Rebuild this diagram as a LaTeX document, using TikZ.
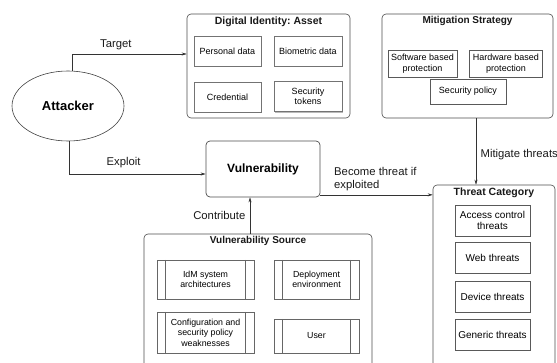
\documentclass[tikz,border=0pt]{standalone}
\usepackage{fontspec}
\setmainfont{Liberation Sans}
\usepackage{tikz}
\usetikzlibrary{positioning,shapes.geometric,shadows,arrows.meta}
\frenchspacing

\tikzset{
  outer/.style={draw=black!70, rounded corners=4pt, line width=0.6pt},
  title/.style={font=\fontsize{10.5}{12}\selectfont\bfseries, inner sep=1pt, text=black!90},
  asset/.style={draw=black!55, fill=white, font=\fontsize{9}{10.5}\selectfont, align=center,
    minimum height=30pt, drop shadow={shadow xshift=1pt, shadow yshift=-1.5pt, fill=black!45, opacity=0.6}},
  mitem/.style={draw=black!65, font=\fontsize{9}{10.5}\selectfont, align=center, minimum height=27pt},
  titem/.style={draw=black!65, font=\fontsize{10}{11.5}\selectfont, align=center,
    minimum width=75pt, minimum height=31pt},
  source/.style={draw=black!60, font=\fontsize{8.8}{10.5}\selectfont, align=center, minimum height=39pt,
    path picture={
      \draw[black!60] ([xshift=8.5pt]path picture bounding box.north west) -- ([xshift=8.5pt]path picture bounding box.south west);
      \draw[black!60] ([xshift=-8.5pt]path picture bounding box.north east) -- ([xshift=-8.5pt]path picture bounding box.south east);
    }},
  lab/.style={font=\fontsize{11.3}{12.5}\selectfont, text=black!90},
  arr/.style={draw=black!80, line width=0.5pt, -{Stealth[length=5pt,width=3pt]}}
}

\begin{document}
\begin{tikzpicture}[x=1pt, y=-1pt]
  \clip (0,0) rectangle (557,363);

  % attacker
  \node (att) [ellipse, draw=black!75, line width=0.6pt, minimum width=112pt, minimum height=70pt,
    font=\fontsize{13}{15}\selectfont\bfseries] at (68,106) {Attacker};

  % digital identity
  \node (asset) [outer, minimum width=163pt, minimum height=104pt] at (268.5,66) {};
  \node (assettitle) [title, below=1.5pt of asset.north] {Digital Identity: Asset};
  \node (pers) [asset, minimum width=67pt] at (227.5,51) {Personal data};
  \node (bio) [asset, minimum width=68pt] at (308,51) {Biometric data};
  \node (cred) [asset, minimum width=67pt] at (227.5,97) {Credential};
  \node (tok) [asset, minimum width=68pt] at (308,96.5) {Security\\tokens};

  % mitigation strategy
  \node (mitig) [outer, minimum width=171pt, minimum height=104pt] at (467.5,66) {};
  \node (mitigtitle) [title, font=\fontsize{10}{12}\selectfont\bfseries, below=1.5pt of mitig.north] {Mitigation Strategy};
  \node (sw) [mitem, minimum width=69pt] at (422.5,63.5) {Software based\\protection};
  \node (hw) [mitem, minimum width=72pt] at (506,63.5) {Hardware based\\protection};
  \node (pol) [mitem, minimum width=76pt, minimum height=25pt] at (468,91.5) {Security policy};

  % vulnerability
  \node (vuln) [outer, line width=0.7pt, minimum width=114pt, minimum height=56pt,
    font=\fontsize{12}{14}\selectfont\bfseries] at (263,169) {Vulnerability};

  % threat category
  \node (threat) [outer, minimum width=122pt, minimum height=190pt] at (494,280) {};
  \node (threattitle) [title, below=1.5pt of threat.north] {Threat Category};
  \node (acc) [titem] at (492.5,220.5) {Access control\\threats};
  \node (web) [titem] at (492.5,258) {Web threats};
  \node (dev) [titem] at (492.5,296.5) {Device threats};
  \node (gen) [titem] at (492.5,334.5) {Generic threats};

  % vulnerability source
  \node (vsrc) [outer, minimum width=228pt, minimum height=141pt] at (258,304.5) {};
  \node (vsrctitle) [title, font=\fontsize{10}{12}\selectfont\bfseries, below=1pt of vsrc.north] {Vulnerability Source};
  \node (idm) [source, minimum width=97pt] at (205.5,279.5) {IdM system\\architectures};
  \node (dep) [source, minimum width=85pt] at (316.5,279.5) {Deployment\\environment};
  \node (conf) [source, minimum width=97pt, minimum height=41pt] at (205.5,332.5) {Configuration and\\security policy\\weaknesses};
  \node (user) [source, minimum width=85pt, minimum height=34pt] at (316.5,336) {User};

  % connectors
  \draw [arr] ([xshift=4.5pt]att.north) |- node [lab, pos=0.69, above=1pt] {Target} ([yshift=-3pt]asset.west |- pers.center);
  \draw [arr] ([xshift=1pt]att.south) |- node [lab, pos=0.70, above=2.5pt] {Exploit} ([yshift=-5pt]vuln.west);
  \draw [arr] ([xshift=8.5pt]mitig.south) -- node [lab, pos=0.55, right=1pt] {Mitigate threats} ([xshift=8.5pt]mitig.south |- threat.north);
  \coordinate (vx) at ([yshift=2.5pt]vuln.south east);
  \draw [arr] (vx) -- (vx -| threat.west);
  \node (become) [lab, align=left, anchor=west, inner sep=0pt] at (334,179) {Become threat if\\exploited};
  \draw [arr] ([xshift=-8pt]vsrc.north) -- node [lab, left=1pt] {Contribute} ([xshift=-8pt]vsrc.north |- vuln.south);

\end{tikzpicture}
\end{document}
